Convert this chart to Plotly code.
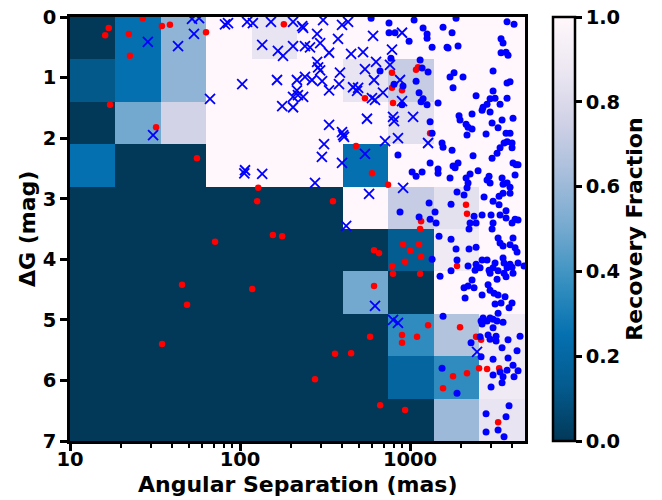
import plotly.graph_objects as go

# Bin edges of the recovery grid
sep_edges = [10, 18.4, 34.3, 63.2, 117, 217, 402, 742, 1380, 2550, 4740]
dg_edges = [0.0, 0.7, 1.4, 2.1, 2.8, 3.5, 4.2, 4.9, 5.6, 6.3, 7.0]

# Recovery fraction per bin (rows: dG bins, columns: separation bins)
recovery = [
    [0.00, 0.25, 0.57, 1.00, 0.86, 1.00, 1.00, 1.00, 1.00, 1.00],
    [0.12, 0.25, 0.57, 1.00, 1.00, 1.00, 0.86, 0.72, 1.00, 1.00],
    [0.00, 0.50, 0.76, 1.00, 1.00, 1.00, 1.00, 0.83, 1.00, 1.00],
    [0.25, 0.00, 0.00, 1.00, 1.00, 1.00, 0.25, 1.00, 1.00, 1.00],
    [0.00, 0.00, 0.00, 0.00, 0.00, 0.00, 1.00, 0.72, 0.84, 1.00],
    [0.00, 0.00, 0.00, 0.00, 0.00, 0.00, 0.00, 0.14, 0.90, 1.00],
    [0.00, 0.00, 0.00, 0.00, 0.00, 0.00, 0.50, 0.00, 1.00, 1.00],
    [0.00, 0.00, 0.00, 0.00, 0.00, 0.00, 0.00, 0.36, 0.66, 0.90],
    [0.00, 0.00, 0.00, 0.00, 0.00, 0.00, 0.00, 0.19, 0.36, 0.90],
    [0.00, 0.00, 0.00, 0.00, 0.00, 0.00, 0.00, 0.00, 0.60, 0.86],
]

# Companions (separation in mas, delta G in mag)
red_points = [
    (16.9, 0.18), (16.1, 0.30), (22.2, 0.28), (22.5, 0.64), (34.7, 0.15), (38.7, 0.13),
    (63.1, 0.25), (26.8, 0.02), (17.2, 1.45), (32.1, 1.82), (55.8, 2.33), (181, 0.12),
    (783, 0.92), (1084, 0.87), (1114, 0.83), (783, 1.17), (897, 1.21), (543, 1.34),
    (794, 1.42), (1312, 1.92), (481, 2.13), (597, 2.58), (742, 2.77), (128, 2.82),
    (126, 3.04), (71.3, 3.71), (45.6, 4.42), (48.8, 4.75), (118, 4.49), (34.8, 5.40),
    (352, 3.04), (156, 3.60), (177, 3.62), (614, 3.85), (657, 3.90), (614, 4.44),
    (1161, 3.37), (1146, 3.50), (910, 3.75), (1130, 3.75), (1000, 3.86), (1161, 3.96),
    (935, 4.04), (783, 4.11), (794, 4.24), (1146, 4.24), (1276, 5.09), (897, 5.25),
    (1099, 5.28), (897, 5.38), (582, 5.28), (362, 5.56), (450, 5.55), (2133, 3.10),
    (2162, 3.25), (1889, 4.11), (1967, 5.12), (2445, 5.28), (2617, 5.33), (276, 5.98),
    (667, 6.41), (935, 6.49), (1563, 6.13), (2546, 5.80), (2838, 5.81), (3342, 5.80),
    (2162, 5.88), (1790, 5.93), (3296, 6.69),
]

cross_points = [
    (28.7, 0.41), (43.2, 0.48), (53.6, 0.28), (52.2, 0.03), (57.4, 0.02), (81.6, 0.12),
    (85, 0.10), (110, 0.08), (119, 0.10), (103, 1.11), (66.6, 1.35), (30.8, 1.95),
    (107, 2.53), (106, 2.58), (135, 2.59), (152, 0.08), (205, 0.08), (232, 0.15),
    (235, 0.18), (308, 0.05), (398, 0.13), (432, 0.08), (135, 0.46), (167, 0.56),
    (179, 0.64), (205, 0.48), (241, 0.48), (258, 0.50), (284, 0.28), (296, 0.43),
    (334, 0.59), (377, 0.36), (606, 0.31), (897, 0.26), (783, 0.54), (450, 0.61),
    (529, 0.58), (284, 0.74), (288, 0.83), (296, 0.88), (165, 1.04), (216, 1.04),
    (241, 0.99), (265, 1.04), (304, 1.06), (334, 1.21), (387, 0.92), (382, 1.11),
    (216, 1.21), (219, 1.29), (235, 1.32), (205, 1.32), (177, 1.47), (205, 1.49),
    (462, 1.16), (495, 1.17), (488, 1.22), (543, 0.86), (614, 1.04), (631, 0.74),
    (762, 0.79), (597, 1.34), (622, 1.37), (693, 1.25), (897, 1.39), (558, 1.68),
    (794, 1.65), (805, 1.72), (1042, 1.65), (849, 2.00), (1276, 2.08), (334, 1.78),
    (398, 1.90), (404, 1.95), (409, 1.98), (312, 2.10), (303, 2.31), (398, 2.41),
    (543, 2.26), (713, 2.05), (276, 2.74), (910, 2.82), (574, 2.92), (421, 3.45),
    (622, 4.77), (794, 5.00), (849, 5.05), (2477, 5.53), (873, 1.04),
]

blue_points = [
    (590, 0.02), (752, 0.10), (752, 0.26), (816, 0.26), (987, 0.40), (1056, 0.05),
    (1193, 0.18), (1259, 0.28), (1259, 0.35), (1348, 0.50), (1563, 0.17), (1650, 0.50),
    (772, 0.68), (666, 0.89), (1146, 0.71), (1177, 0.84), (1276, 0.91), (805, 1.11),
    (909, 1.14), (1085, 1.06), (1130, 1.25), (1193, 1.35), (1161, 1.40), (1259, 1.45),
    (1461, 1.42), (897, 1.45), (1312, 1.73), (1348, 1.92), (1542, 2.08), (1563, 2.15),
    (849, 2.28), (1312, 2.41), (1461, 2.51), (1461, 2.58), (1028, 2.56), (1085, 2.63),
    (1177, 2.56), (1766, 0.26), (1673, 0.51), (1915, 0.48), (1864, 0.02), (3719, 0.08),
    (4088, 0.12), (3429, 0.36), (3523, 0.43), (3429, 0.59), (3669, 0.58), (3769, 0.63),
    (1814, 0.92), (1718, 0.99), (2049, 0.99), (1790, 1.17), (3077, 0.89), (3719, 1.09),
    (3873, 1.07), (3077, 1.22), (2445, 1.30), (2955, 1.35), (3162, 1.34), (3719, 1.34),
    (3383, 1.44), (2837, 1.44), (2688, 1.49), (2652, 1.54), (2955, 1.57), (2315, 1.60),
    (1941, 1.63), (1967, 1.70), (3476, 1.70), (4033, 1.67), (3036, 1.75), (2135, 1.77),
    (2193, 1.82), (2315, 1.85), (2163, 1.95), (3293, 1.83), (3669, 1.92), (3873, 1.92),
    (2799, 1.93), (1766, 2.20), (2347, 2.29), (3036, 2.33), (3249, 2.25), (3383, 2.16),
    (3571, 2.08), (3719, 2.06), (3979, 2.08), (3979, 2.16), (4200, 2.44), (4033, 2.41),
    (4316, 2.44), (1790, 2.46), (1840, 2.49), (1915, 2.41), (2254, 2.59), (2512, 2.54),
    (2915, 2.63), (3476, 2.66), (4145, 2.61), (1718, 2.66), (2135, 2.66), (2193, 2.74),
    (2837, 2.69), (2955, 2.74), (3719, 2.74), (3873, 2.81), (2163, 2.82), (1889, 2.89),
    (2077, 2.94), (1742, 3.09), (1294, 3.07), (1403, 3.22), (1130, 3.30), (1312, 3.34),
    (1422, 3.40), (873, 3.22), (2379, 3.29), (2652, 3.27), (2995, 3.27), (3383, 3.27),
    (3669, 3.20), (3077, 3.04), (2724, 2.97), (3338, 2.96), (3523, 2.91), (3873, 2.91),
    (3523, 2.76), (3338, 3.10), (3669, 3.32), (4145, 3.34), (4316, 3.35), (3979, 3.40),
    (2254, 3.40), (2445, 3.40), (2223, 3.50), (3077, 3.40), (3036, 3.50), (1481, 3.62),
    (1742, 3.67), (1864, 3.83), (1348, 4.00), (1889, 4.01), (2223, 3.83), (2445, 3.80),
    (3293, 3.65), (3383, 3.73), (3523, 3.78), (3873, 3.76), (4145, 3.81), (4258, 3.88),
    (4033, 3.65), (2652, 4.01), (2837, 4.01), (3162, 4.06), (3523, 3.98), (3571, 4.06),
    (3873, 4.08), (3979, 4.13), (4316, 4.06), (4680, 4.11), (2193, 4.11), (2445, 4.08),
    (2581, 4.14), (2412, 4.18), (2915, 4.18), (3077, 4.14), (2955, 4.23), (3293, 4.19),
    (3719, 4.14), (3571, 4.23), (3249, 4.33), (3669, 4.29), (4033, 4.23), (1501, 4.28),
    (1742, 4.19), (2315, 4.34), (2193, 4.44), (2077, 4.47), (2379, 4.47), (2876, 4.42),
    (2955, 4.51), (3119, 4.56), (3293, 4.59), (2652, 4.59), (3619, 4.62), (2107, 4.64),
    (3979, 4.72), (3429, 4.72), (3162, 4.74), (3821, 4.80), (3293, 4.89), (1563, 4.94),
    (2688, 4.97), (2955, 4.97), (2616, 5.02), (2837, 5.02), (3077, 4.99), (3249, 5.02),
    (3523, 5.04), (2652, 5.07), (3077, 5.13), (2876, 5.25), (2581, 5.28), (2955, 5.32),
    (3205, 5.35), (3205, 5.27), (2284, 5.38), (3769, 5.33), (4435, 5.27), (3476, 5.46),
    (4258, 5.51), (2616, 5.61), (3077, 5.65), (3769, 5.63), (4033, 5.75), (3719, 5.83),
    (3383, 5.86), (4316, 5.84), (4088, 5.94), (3077, 5.91), (3523, 5.94), (3476, 6.04),
    (2995, 6.11), (1542, 5.80), (1889, 6.21), (3821, 6.42), (2799, 6.55), (3669, 6.60),
    (2799, 6.85), (3293, 6.82), (3571, 6.93),
]

x_tick_vals = [10, 100, 1000]
x_tick_text = ["10", "100", "1000"]
x_minor_vals = [20, 30, 40, 50, 60, 70, 80, 90, 200, 300, 400, 500, 600, 700, 800, 900,
                2000, 3000, 4000]
y_tick_vals = [0, 1, 2, 3, 4, 5, 6, 7]
cbar_ticks = [0.0, 0.2, 0.4, 0.6, 0.8, 1.0]

pubu_r = [
    [0.0, "rgb(2,56,88)"], [0.125, "rgb(4,90,141)"], [0.25, "rgb(5,112,176)"],
    [0.375, "rgb(54,144,192)"], [0.5, "rgb(116,169,207)"], [0.625, "rgb(166,189,219)"],
    [0.75, "rgb(208,209,230)"], [0.875, "rgb(236,231,242)"], [1.0, "rgb(255,247,251)"],
]

FONT = "DejaVu Sans"
TICK_SIZE = 19.5
TITLE_SIZE = 22
title_font = dict(family=FONT, size=TITLE_SIZE, color="black", weight="bold")
tick_font = dict(family=FONT, size=TICK_SIZE, color="black", weight="bold")

fig = go.Figure()

fig.add_trace(go.Heatmap(
    x=sep_edges, y=dg_edges, z=recovery,
    zmin=0, zmax=1, colorscale=pubu_r,
    hoverinfo="skip",
    colorbar=dict(
        x=1.0615, xanchor="left", y=0.5, yanchor="middle",
        len=1.0, lenmode="fraction", thickness=22, thicknessmode="pixels",
        ypad=0, xpad=0,
        outlinecolor="black", outlinewidth=2.5,
        tickvals=cbar_ticks, ticktext=[f"{v:.1f}" for v in cbar_ticks],
        ticks="outside", ticklen=6, tickwidth=2.5, tickcolor="black",
        tickfont=tick_font,
        title=dict(text="Recovery Fraction", side="right", font=title_font),
    ),
))


def unzip(points):
    return [p[0] for p in points], [p[1] for p in points]


rx, ry = unzip(red_points)
fig.add_trace(go.Scatter(
    x=rx, y=ry, mode="markers",
    marker=dict(symbol="circle", size=6.5, color="#ff0000", line=dict(width=0)),
    showlegend=False,
))

cx, cy = unzip(cross_points)
fig.add_trace(go.Scatter(
    x=cx, y=cy, mode="markers",
    marker=dict(symbol="x-thin", size=10, color="#0000ff",
                line=dict(width=1.8, color="#0000ff")),
    showlegend=False,
))

bx, by = unzip(blue_points)
fig.add_trace(go.Scatter(
    x=bx, y=by, mode="markers",
    marker=dict(symbol="circle", size=7, color="#0000ff", line=dict(width=0)),
    showlegend=False,
))

fig.update_layout(
    width=662, height=500,
    margin=dict(l=70, r=137, t=17, b=59, autoexpand=False),
    paper_bgcolor="white", plot_bgcolor="white",
    font=dict(family=FONT, size=TICK_SIZE, color="black"),
    showlegend=False,
    annotations=[
        dict(text="Angular Separation (mas)", xref="paper", yref="paper",
             x=0.501, y=-0.1035, xanchor="center", yanchor="middle",
             showarrow=False, font=title_font),
        dict(text="ΔG (mag)", xref="paper", yref="paper",
             x=-0.0945, y=0.5, xanchor="center", yanchor="middle",
             textangle=-90, showarrow=False, font=title_font),
    ],
)

fig.update_xaxes(
    type="log", range=[1, 3.676], automargin=False,
    tickmode="array", tickvals=x_tick_vals, ticktext=x_tick_text,
    ticks="outside", ticklen=7, tickwidth=2.5, tickcolor="black",
    ticklabelstandoff=-8,
    minor=dict(tickmode="array", tickvals=x_minor_vals, ticks="outside",
               ticklen=4, tickwidth=2, tickcolor="black", showgrid=False),
    tickfont=tick_font,
    showline=True, linecolor="black", linewidth=2.5, mirror=True,
    showgrid=False, zeroline=False,
)

fig.update_yaxes(
    range=[7, 0], automargin=False,
    tickmode="array", tickvals=y_tick_vals, ticktext=[str(v) for v in y_tick_vals],
    ticks="outside", ticklen=7, tickwidth=2.5, tickcolor="black",
    tickfont=tick_font,
    showline=True, linecolor="black", linewidth=2.5, mirror=True,
    showgrid=False, zeroline=False,
)

fig.write_html("out.html")
